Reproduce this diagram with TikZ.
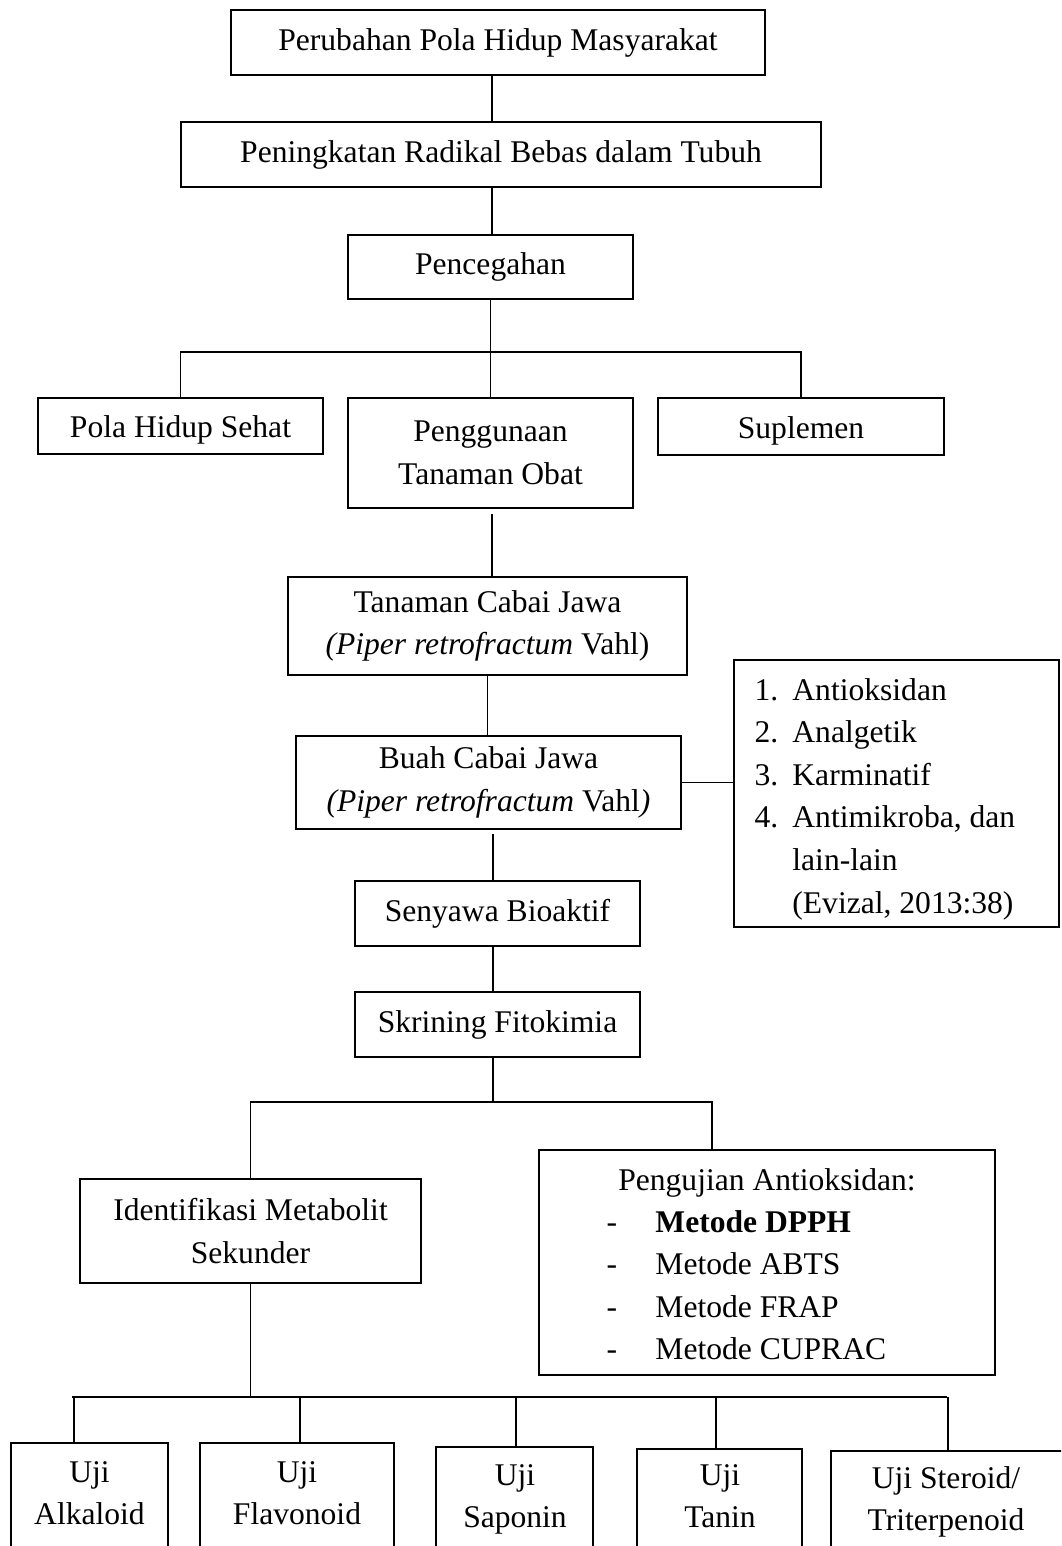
\documentclass[tikz,border=0pt]{standalone}
\usepackage{fontspec}
\setmainfont{Liberation Serif}
\begin{document}
\begin{tikzpicture}[x=0.38pt,y=-0.38pt,
  every node/.style={font=\fontsize{12}{16.2}\selectfont, inner sep=0pt},
  box/.style={draw, line width=0.7pt, align=center},
  one/.style={text height=8.3pt, text depth=2.5pt},
  onelow/.style={text height=9.8pt, text depth=1pt},
  bsz/.style 2 args={minimum width=#1*0.38pt, minimum height=#2*0.38pt},
  ln/.style={line width=0.5pt}]
\useasboundingbox (0,0) rectangle (1061,1546);
\clip (0,0) rectangle (1061,1546);

% boxes
\node[box,one,bsz={534}{65}] (b1) at (498,42.5) {Perubahan Pola Hidup Masyarakat};
\node[box,one,bsz={640}{65}] (b2) at (501,154.5) {Peningkatan Radikal Bebas dalam Tubuh};
\node[box,one,bsz={285}{64}] (b3) at (490.5,267) {Pencegahan};
\node[box,onelow,bsz={285}{56}] (pola) at (180.5,426) {Pola Hidup Sehat};
\node[box,bsz={285}{110}] (pgn) at (490.5,453) {Penggunaan\\Tanaman Obat};
\node[box,onelow,bsz={286}{57}] (sup) at (801,426.5) {Suplemen};
\node[box,bsz={399}{98}] (tcj) at (487.5,626) {Tanaman Cabai Jawa\\\textit{(Piper retrofractum} Vahl)};
\node[box,bsz={385}{93}] (buah) at (488.5,782.5) {Buah Cabai Jawa\\\textit{(Piper retrofractum} Vahl\textit{)}};
\node[box,bsz={325}{267}] (list) at (896.5,793.5) {};
\node[box,one,bsz={285}{65}] (sen) at (497.5,913.5) {Senyawa Bioaktif};
\node[box,one,bsz={285}{65}] (skr) at (497.5,1024.5) {Skrining Fitokimia};
\node[box,bsz={341}{104}] (idn) at (250.5,1231) {Identifikasi Metabolit\\Sekunder};
\node[box,bsz={456}{225}] (uji) at (767,1262.5) {};
\node[box,bsz={157}{130},anchor=north] (alk) at (89.5,1442) {};
\node[box,bsz={194}{130},anchor=north] (flav) at (297,1442) {};
\node[box,bsz={157}{130},anchor=north] (sap) at (514.5,1446) {};
\node[box,bsz={165}{130},anchor=north] (tan) at (719.5,1448) {};
\node[box,bsz={232}{130},anchor=north] (ster) at (947,1450) {};

% texts inside list boxes
\node[anchor=base west] (listtx) at (754,700) {\begin{tabular}[t]{@{}p{14.4pt}@{}l@{}}1.&Antioksidan\\2.&Analgetik\\3.&Karminatif\\4.&Antimikroba, dan\\&lain-lain\\&(Evizal, 2013:38)\end{tabular}};
\node[anchor=base] (ujititle) at (767,1190) {Pengujian Antioksidan:};
\node[anchor=base west] (ujitx) at (606,1232) {\begin{tabular}[t]{@{}p{18.6pt}@{}l@{}}-&\textbf{Metode DPPH}\\-&Metode ABTS\\-&Metode FRAP\\-&Metode CUPRAC\end{tabular}};
\node[anchor=base] (alkt) at (89.5,1482) {\begin{tabular}[t]{@{}c@{}}Uji\\Alkaloid\end{tabular}};
\node[anchor=base] (flavt) at (297,1482) {\begin{tabular}[t]{@{}c@{}}Uji\\Flavonoid\end{tabular}};
\node[anchor=base] (sapt) at (515,1485) {\begin{tabular}[t]{@{}c@{}}Uji\\Saponin\end{tabular}};
\node[anchor=base] (tant) at (720,1485) {\begin{tabular}[t]{@{}c@{}}Uji\\Tanin\end{tabular}};
\node[anchor=base] (stert) at (946,1488) {\begin{tabular}[t]{@{}c@{}}Uji Steroid/\\Triterpenoid\end{tabular}};

% connectors
\coordinate (sp1) at (492,0);
\coordinate (sp2) at (493,0);
\draw[ln] (b1.south -| sp1) -- (b2.north -| sp1);
\draw[ln] (b2.south -| sp1) -- (b3.north -| sp1);
\coordinate (j1) at (490.5,352);
\draw[ln] (b3.south) -- (j1);
\draw[ln] (pola.north) |- (j1) -| (sup.north);
\draw[ln] (j1) -- (pgn.north);
\draw[ln,shorten <=1.9pt] (pgn.south -| sp1) -- (tcj.north -| sp1);
\draw[ln] (tcj.south) -- (tcj.south |- buah.north);
\draw[ln] (buah.east) -- (buah.east -| list.west);
\draw[ln,shorten <=1.5pt] (buah.south -| sp2) -- (sen.north -| sp2);
\draw[ln] (sen.south -| sp2) -- (skr.north -| sp2);
\coordinate (j2) at (493,1102);
\coordinate (j2r) at (712,1102);
\draw[ln] (skr.south -| sp2) -- (j2);
\draw[ln] (idn.north) |- (j2) -- (j2r) -- (j2r |- uji.north);
\coordinate (j3) at (250.5,1397);
\coordinate (j3l) at (72,1397);
\coordinate (j3r) at (947,1397);
\draw[ln] (idn.south) -- (j3);
\draw[ln] (j3l) -- (j3r);
\foreach \n/\x in {alk/74,flav/300,sap/516,tan/716,ster/948} {
  \coordinate (d\n) at (\x,1397);
  \draw[ln] (d\n) -- (d\n |- \n.north);
}
\end{tikzpicture}
\end{document}
